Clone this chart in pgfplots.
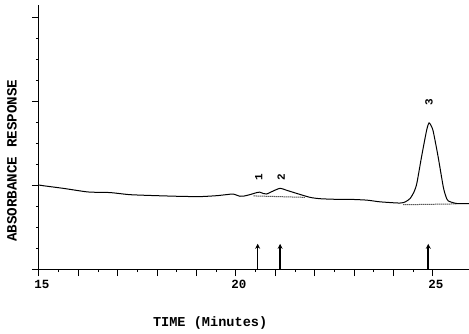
\documentclass[border=0pt]{standalone}
\usepackage{fontspec}
\setmonofont{Liberation Mono}
\usepackage{pgfplots}
\pgfplotsset{compat=1.18}
\usetikzlibrary{arrows.meta}
\begin{document}
\begin{tikzpicture}[x=1pt,y=1pt]
\begin{axis}[
  at={(0pt,0pt)}, anchor=south west,
  scale only axis, width=430pt, height=264pt,
  xmin=15, xmax=25.914, ymin=0, ymax=3.143,
  axis x line=bottom, axis y line=left,
  axis line style={-, line width=1pt},
  xtick={15,16,...,25},
  xticklabels={15,,,,,20,,,,,25},
  minor x tick num=1,
  ytick={0,1,2,3},
  yticklabels={},
  minor y tick num=3,
  tick align=outside,
  major tick length=7pt, minor tick length=3pt,
  tick style={line width=1pt, black},
  /pgf/number format/assume math mode=true,
  ticklabel style={font=\ttfamily\bfseries\fontsize{12.5}{12.5}\selectfont},
  xticklabel style={yshift=-1pt, xshift=3pt},
  xlabel={TIME (Minutes)},
  xlabel style={at={(axis description cs:0.398,0)}, anchor=center, yshift=-54pt,
    font=\ttfamily\bfseries\fontsize{13.6}{13.6}\selectfont},
  ylabel={ABSORBANCE RESPONSE},
  ylabel style={at={(axis description cs:-0.063,0.41)}, anchor=center,
    font=\ttfamily\bfseries\fontsize{14.2}{14.2}\selectfont},
  clip=false,
]
\addplot[black, line width=1pt, smooth, tension=0.4] coordinates {
(15.0,1.0) (15.1,0.992) (15.62,0.96) (16.25,0.917) (16.8,0.91) (17.31,0.885)
(17.99,0.873) (18.58,0.865) (19.09,0.862) (19.51,0.873) (19.75,0.885)
(19.93,0.892) (20.1,0.866) (20.2,0.868) (20.35,0.885) (20.53,0.91)
(20.6,0.915) (20.7,0.898) (20.78,0.893) (20.95,0.93) (21.12,0.96)
(21.3,0.935) (21.54,0.9) (21.88,0.853) (22.13,0.837) (22.51,0.83)
(22.85,0.83) (23.32,0.82) (23.65,0.80) (24.16,0.785) (24.3,0.80)
(24.42,0.84) (24.52,0.92) (24.59,1.02) (24.71,1.337) (24.84,1.655)
(24.9,1.74) (24.96,1.70) (25.01,1.63) (25.13,1.337) (25.26,0.98)
(25.33,0.86) (25.39,0.81) (25.6,0.78) (25.91,0.778)
};
\addplot[black, line width=1pt, densely dotted] coordinates {(20.45,0.87) (21.75,0.853)};
\addplot[black, line width=1pt, densely dotted] coordinates {(24.25,0.765) (25.6,0.775)};
\addplot[black, line width=1.6pt, -{Stealth[length=5pt,width=5pt]},
  quiver={u=0, v=\thisrow{v}}] table {
x y v
20.55 0 0.30
21.12 0 0.30
24.88 0 0.30
};
\node[rotate=90, font=\ttfamily\bfseries\fontsize{11}{11}\selectfont] at (axis cs:20.58,1.09) {1};
\node[rotate=90, font=\ttfamily\bfseries\fontsize{11}{11}\selectfont] at (axis cs:21.15,1.09) {2};
\node[rotate=90, font=\ttfamily\bfseries\fontsize{11}{11}\selectfont] at (axis cs:24.9,1.98) {3};
\end{axis}
\pgfresetboundingbox
\path[use as bounding box] (-39pt,-64pt) rectangle (430pt,269pt);
\end{tikzpicture}
\end{document}
